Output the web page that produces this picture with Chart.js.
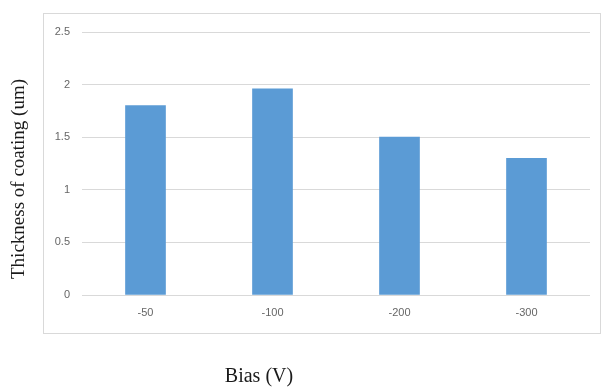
<!DOCTYPE html>
<html>
<head>
<meta charset="utf-8">
<script src="https://cdn.jsdelivr.net/npm/chart.js@4"></script>
<style>
  html, body { margin: 0; padding: 0; background: #fff; }
  #wrap { width: 604px; height: 387px; position: relative; }
</style>
</head>
<body>
<div id="wrap"><canvas id="myChart"></canvas></div>
<script>
// chart values
const biasLabels = ["-50", "-100", "-200", "-300"];
const thickness = [1.8, 1.96, 1.5, 1.3];
const yTicks = [0, 0.5, 1, 1.5, 2, 2.5];

const xTitle = "Bias (V)";
const yTitle = "Thickness of coating (um)";

// outer frame + axis titles drawn on the canvas
const framePlugin = {
	id: "frame",
	beforeDraw(chart) {
		const ctx = chart.ctx;
		ctx.save();
		ctx.fillStyle = "#fff";
		ctx.fillRect(0, 0, chart.width, chart.height);
		ctx.strokeStyle = "#d9d9d9";
		ctx.lineWidth = 1;
		ctx.strokeRect(43.5, 13.5, 557, 320);
		ctx.restore();
	},
	afterDraw(chart) {
		const ctx = chart.ctx;
		ctx.save();
		ctx.fillStyle = "#1a1a1a";
		ctx.textAlign = "center";
		ctx.textBaseline = "middle";
		ctx.font = "20px 'Liberation Serif'";
		ctx.fillText(xTitle, 259, 377);
		ctx.translate(19, 179);
		ctx.rotate(-Math.PI / 2);
		ctx.font = "19px 'Liberation Serif'";
		ctx.fillText(yTitle, 0, 0);
		ctx.restore();
	},
};

const data = {
	labels: biasLabels,
	datasets: [
		{
			data: thickness,
			backgroundColor: "#5b9bd5",
			barThickness: 40,
		},
	],
};

const config = {
	type: "bar",
	data,
	options: {
		responsive: true,
		maintainAspectRatio: false,
		animation: false,
		layout: { padding: { top: 32, right: 14, left: 0, bottom: 0 } },
		plugins: { legend: { display: false }, tooltip: { enabled: false } },
		scales: {
			x: {
				grid: { display: false },
				border: { display: false },
				ticks: { color: "#666", font: { family: "'Liberation Sans'", size: 11 }, padding: 3 },
				afterFit: s => { s.height = 92; },
			},
			y: {
				min: 0,
				max: 2.5,
				afterBuildTicks: s => { s.ticks = yTicks.map(v => ({ value: v })); },
				grid: { color: "#d9d9d9", drawTicks: false },
				border: { display: false },
				ticks: {
					color: "#666",
					font: { family: "'Liberation Sans'", size: 11 },
					padding: 12,
					callback: v => String(v),
				},
				afterFit: s => { s.width = 82; },
			},
		},
	},
	plugins: [framePlugin],
};

let myChart = new Chart(document.getElementById("myChart"), config);
</script>
</body>
</html>
